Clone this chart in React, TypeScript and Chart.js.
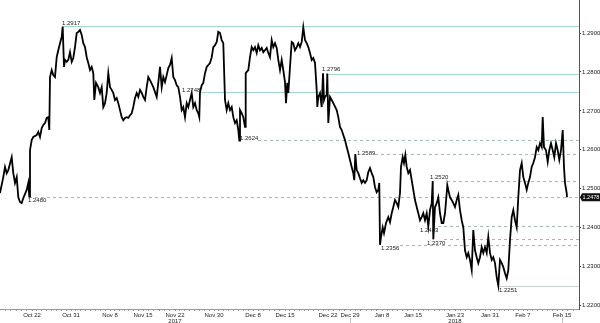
import { useEffect, useRef } from "react";
import { Chart, registerables } from "chart.js";
Chart.register(...registerables);

// time index along the (weekend-free) axis and GBP/USD-style price
const times = [
  0, 3.3, 5, 6.7, 8.3, 11.7, 13.3, 15, 16.7, 18.3, 20, 21.7, 23.3, 26.7, 28.3, 29.3, 30, 31.7, 33.3, 36.7, 38.3, 40, 41.7, 43.3, 45, 46.7, 48.3, 49.3,
  50, 51.7, 53.3, 55, 56.7, 58.3, 60, 61.7, 62.7, 64, 65, 66.7, 68.3, 70, 71.7, 73.3, 75, 76.7, 78.3, 80, 81.7, 83.3, 85, 86.7, 88.3, 90, 91.7, 93.3, 94.3, 96, 98.3,
  100, 101.7, 103.3, 105, 106.7, 108.3, 110, 111.7, 113.3, 115, 116.7, 118.3, 120, 121.7, 123.3, 125, 126.7, 128.3, 130, 131.7, 133.3, 135, 136.7, 138.3, 140, 141.7, 143.3, 145, 146.7, 148.3,
  150, 153.3, 156.7, 158.3, 160, 161.7, 163.3, 165, 166.7, 168.3, 170, 171.7, 173.3, 175, 176.7, 178.3, 180, 181.7, 183.3, 185, 186.7, 188.3, 190, 191.7, 193.3, 195, 196.7, 198.3, 199.3,
  200, 201.7, 203.3, 205, 206.7, 208.3, 210, 211.7, 213.3, 215, 216.7, 218.3, 220, 221.7, 223.3, 225, 226.7, 228.3, 230, 231.7, 233.3, 235, 236.7, 238.3, 239.3, 240, 241.7, 243.3, 245, 245.7, 248.3,
  250, 251.7, 253.3, 255, 256.7, 258.3, 260, 261.7, 263.3, 265, 266.7, 268.3, 270, 271.7, 273.3, 275, 276.7, 278.3, 280, 281.7, 283.3, 285, 286, 287.3, 288.3, 290, 291.7, 293.3, 295, 296.7, 298.3,
  300, 301.7, 303.3, 305, 306.7, 308.3, 310, 311.7, 313.3, 315, 316.7, 317.3, 318.3, 320, 321.7, 323, 324, 325, 326.7, 327.3, 328.3, 330, 331.7, 333.3, 336.7, 338.3, 340, 341.7, 343.3, 345, 346.7, 348.3,
  350, 351.7, 353.3, 354.3, 355.3, 356.7, 358.3, 360, 361.7, 363.3, 365, 366.7, 368.3, 370, 371.7, 373.3, 375, 376.7, 378.3, 379.3, 380, 381, 382.7, 384, 386, 388.3, 390, 391.7, 393.3, 395, 396.7, 398.3,
  400, 401, 402.7, 404, 405.3, 406.7, 408.3, 410, 411.7, 413.3, 415, 416.7, 418.3, 420, 421.7, 423.3, 425, 426.7, 428.3, 430, 431.7, 432.7, 433.3, 435, 436.7, 438.3, 440, 441.7, 443.3, 445, 446.7, 447.3, 448.3,
  450, 451.7, 453.3, 455, 456.7, 458.3, 460, 461.7, 463.3, 465, 466.7, 468.3, 470, 471.7, 473.3, 475, 476.7, 478.3, 480, 481.7, 483.3, 485, 486.7, 488.3, 490, 491.7, 493.3, 495, 496.7, 498.3,
  500, 501.7, 503.3, 505, 506.7, 508.3, 510, 511.7, 513.3, 515, 516.7, 518.3, 520, 521.7, 523.3, 525, 526.7, 528.3, 530, 531.7, 533.3, 535, 536.7, 538.3, 540, 541.7, 542.7, 544, 546, 547.7, 549.3,
  551, 552.7, 554.3, 556, 557.7, 559.3, 561, 562.7, 564, 565, 566.7, 567,
];

const prices = [
  1.2489, 1.2530, 1.2556, 1.2540, 1.2548, 1.2581, 1.2540, 1.2515, 1.2530, 1.2478, 1.2466, 1.2463, 1.2476, 1.2497, 1.2515, 1.2480, 1.2599, 1.2625, 1.2633, 1.2638, 1.2646, 1.2633, 1.2656, 1.2664, 1.2669, 1.2682, 1.2684, 1.2651,
  1.2787, 1.2805, 1.2792, 1.2787, 1.2838, 1.2856, 1.2874, 1.2890, 1.2917, 1.2813, 1.2831, 1.2826, 1.2831, 1.2851, 1.2826, 1.2836, 1.2864, 1.2900, 1.2903, 1.2908, 1.2895, 1.2874, 1.2864, 1.2838, 1.2823, 1.2805, 1.2813, 1.2797, 1.2728, 1.2772, 1.2761,
  1.2746, 1.2761, 1.2710, 1.2720, 1.2746, 1.2797, 1.2761, 1.2754, 1.2746, 1.2728, 1.2733, 1.2720, 1.2702, 1.2684, 1.2676, 1.2682, 1.2684, 1.2682, 1.2689, 1.2694, 1.2710, 1.2733, 1.2746, 1.2736, 1.2754, 1.2746, 1.2736, 1.2728, 1.2761, 1.2787,
  1.2779, 1.2761, 1.2736, 1.2772, 1.2813, 1.2761, 1.2787, 1.2774, 1.2792, 1.2810, 1.2818, 1.2836, 1.2787, 1.2779, 1.2766, 1.2761, 1.2736, 1.2702, 1.2710, 1.2684, 1.2720, 1.2710, 1.2728, 1.2746, 1.2710, 1.2720, 1.2702, 1.2694, 1.2684,
  1.2748, 1.2766, 1.2772, 1.2797, 1.2813, 1.2818, 1.2823, 1.2838, 1.2864, 1.2869, 1.2877, 1.2903, 1.2900, 1.2882, 1.2874, 1.2728, 1.2702, 1.2720, 1.2702, 1.2710, 1.2684, 1.2669, 1.2676, 1.2651, 1.2624, 1.2702, 1.2694, 1.2684, 1.2659, 1.2797, 1.2805,
  1.2838, 1.2864, 1.2856, 1.2864, 1.2849, 1.2869, 1.2856, 1.2862, 1.2851, 1.2856, 1.2862, 1.2849, 1.2838, 1.2882, 1.2864, 1.2874, 1.2862, 1.2831, 1.2805, 1.2831, 1.2805, 1.2774, 1.2720, 1.2772, 1.2746, 1.2813, 1.2877, 1.2874, 1.2856, 1.2864, 1.2874,
  1.2864, 1.2877, 1.2915, 1.2882, 1.2874, 1.2864, 1.2849, 1.2831, 1.2836, 1.2823, 1.2754, 1.2710, 1.2736, 1.2746, 1.2710, 1.2797, 1.2728, 1.2736, 1.2741, 1.2796, 1.2669, 1.2736, 1.2728, 1.2720, 1.2702, 1.2684, 1.2659, 1.2651, 1.2638, 1.2625, 1.2607, 1.2592,
  1.2574, 1.2556, 1.2540, 1.2522, 1.2589, 1.2548, 1.2540, 1.2527, 1.2515, 1.2522, 1.2515, 1.2522, 1.2543, 1.2553, 1.2540, 1.2530, 1.2504, 1.2491, 1.2497, 1.2515, 1.2356, 1.2376, 1.2401, 1.2386, 1.2412, 1.2427, 1.2414, 1.2437, 1.2453, 1.2471, 1.2463, 1.2453,
  1.2489, 1.2556, 1.2581, 1.2566, 1.2587, 1.2556, 1.2540, 1.2548, 1.2522, 1.2497, 1.2471, 1.2453, 1.2437, 1.2419, 1.2427, 1.2437, 1.2419, 1.2437, 1.2403, 1.2445, 1.2463, 1.2520, 1.2370, 1.2453, 1.2463, 1.2478, 1.2437, 1.2412, 1.2412, 1.2437, 1.2489, 1.2509, 1.2497,
  1.2478, 1.2471, 1.2463, 1.2453, 1.2471, 1.2484, 1.2445, 1.2419, 1.2401, 1.2342, 1.2324, 1.2335, 1.2317, 1.2291, 1.2394, 1.2342, 1.2324, 1.2309, 1.2324, 1.2350, 1.2335, 1.2350, 1.2335, 1.2376, 1.2335, 1.2317, 1.2324, 1.2309, 1.2273, 1.2251,
  1.2317, 1.2309, 1.2299, 1.2283, 1.2270, 1.2291, 1.2368, 1.2427, 1.2445, 1.2419, 1.2401, 1.2478, 1.2548, 1.2566, 1.2530, 1.2515, 1.2497, 1.2515, 1.2530, 1.2556, 1.2566, 1.2581, 1.2607, 1.2599, 1.2617, 1.2607, 1.2684, 1.2607, 1.2599, 1.2569, 1.2599,
  1.2617, 1.2599, 1.2581, 1.2617, 1.2599, 1.2574, 1.2599, 1.2651, 1.2556, 1.2515, 1.2489, 1.2478,
];

const tickPositions = [32, 71, 110, 143, 175, 214, 253, 285, 328, 350, 382, 413, 455, 490, 523, 562];
const tickLabels = ["Oct 22", "Oct 31", "Nov 8", "Nov 15", "Nov 22", "Nov 30", "Dec 8", "Dec 15", "Dec 22", "Dec 29", "Jan 8", "Jan 15", "Jan 23", "Jan 31", "Feb 7", "Feb 15"];
const yearTickIndexes = [4, 12];
const yearLabels = ["2017", "2018"];
const separatorTickIndexes = [9, 15];

const yTicks = [1.22, 1.23, 1.24, 1.25, 1.26, 1.27, 1.28, 1.29];
const yMin = 1.2191;
const yMax = 1.2985;
const xMax = 579;

const levelValues = [1.2917, 1.2796, 1.2748, 1.2624, 1.2589, 1.252, 1.248, 1.2403, 1.237, 1.2356, 1.2251];
const levelStartTimes = [63, 326, 200, 258, 375, 447, 29, 438, 444, 400, 498];
const levelLabelTimes = [62, 322, 182, 240, 357, 430, 28, 420, 427, 381, 499];
const lastPrice = 1.2478;

// styles (kept apart from the data)
const TEAL = "#a3d6cd";
const DASH = "#a4b8b8";
const GREY = "#c9d0d0";
const levelKinds = ["solid", "solid", "solid", "dash", "dash", "dash", "dash", "dash", "dash", "dash", "grey"];
const levelLabelDy = [-3.5, -4, -1.5, -2.5, -1, -3.5, 4, 3.5, 4, 3.5, 5];
const FONT = '"Liberation Sans", Arial, sans-serif';

const levelsPlugin = {
  id: "levels",
  beforeDatasetsDraw(chart: any) {
    const { ctx, chartArea, scales } = chart;
    const x = scales.x;
    const y = scales.y;
    ctx.save();
    levelValues.forEach((v, i) => {
      const kind = levelKinds[i];
      const py = Math.round(y.getPixelForValue(v)) + 0.5;
      const px0 = x.getPixelForValue(levelStartTimes[i]);
      ctx.beginPath();
      ctx.lineWidth = 1;
      ctx.strokeStyle = kind === "solid" ? TEAL : kind === "dash" ? DASH : GREY;
      ctx.setLineDash(kind === "dash" ? [3, 3] : []);
      ctx.moveTo(px0, py);
      ctx.lineTo(chartArea.right, py);
      ctx.stroke();
    });
    ctx.restore();
  },
  afterDatasetsDraw(chart: any) {
    const { ctx, scales } = chart;
    const x = scales.x;
    const y = scales.y;
    ctx.save();
    ctx.font = `6px ${FONT}`;
    ctx.fillStyle = "#1a1a1a";
    ctx.textBaseline = "middle";
    ctx.textAlign = "left";
    levelValues.forEach((v, i) => {
      ctx.fillText(v.toFixed(4), x.getPixelForValue(levelLabelTimes[i]), y.getPixelForValue(v) + levelLabelDy[i]);
    });
    ctx.restore();
  },
  afterDraw(chart: any) {
    const { ctx, chartArea, scales } = chart;
    const x = scales.x;
    const y = scales.y;
    ctx.save();
    // last price tag
    const py = y.getPixelForValue(lastPrice);
    const left = chartArea.right + 1;
    ctx.fillStyle = "#111";
    ctx.beginPath();
    ctx.moveTo(left, py);
    ctx.lineTo(left + 2, py - 4);
    ctx.lineTo(chart.width, py - 4);
    ctx.lineTo(chart.width, py + 4);
    ctx.lineTo(left + 2, py + 4);
    ctx.closePath();
    ctx.fill();
    ctx.fillStyle = "#fff";
    ctx.font = `5.5px ${FONT}`;
    ctx.textBaseline = "middle";
    ctx.textAlign = "left";
    ctx.fillText(lastPrice.toFixed(4), left + 2.5, py + 0.5);
    // separators under the axis
    ctx.strokeStyle = "#c4c4c4";
    ctx.lineWidth = 1;
    separatorTickIndexes.forEach((ti) => {
      const px = Math.round(x.getPixelForValue(tickPositions[ti])) + 0.5;
      ctx.beginPath();
      ctx.moveTo(px, chartArea.bottom + 9);
      ctx.lineTo(px, chart.height);
      ctx.stroke();
    });
    ctx.restore();
  },
};

function buildXTicks() {
  const out: { value: number }[] = [];
  for (let i = 0; i < tickPositions.length; i++) {
    out.push({ value: tickPositions[i] });
    const next = i + 1 < tickPositions.length ? tickPositions[i + 1] : xMax;
    const gap = next - tickPositions[i];
    const n = Math.max(1, Math.round(gap / 5));
    for (let k = 1; k < n; k++) out.push({ value: tickPositions[i] + (gap * k) / n });
  }
  const first = tickPositions[0];
  const n0 = Math.round(first / 5);
  for (let k = 1; k < n0; k++) out.push({ value: first - (first * k) / n0 });
  return out.sort((a, b) => a.value - b.value);
}

export default function App() {
  const ref = useRef<HTMLCanvasElement | null>(null);
  useEffect(() => {
    document.body.style.margin = "0";
    if (!ref.current) return;
    const chart = new Chart(ref.current, {
      type: "line",
      data: {
        datasets: [
          {
            data: times.map((t, i) => ({ x: t, y: prices[i] })),
            borderColor: "#000",
            borderWidth: 1.8,
            pointRadius: 0,
            tension: 0,
            fill: false,
          },
        ],
      },
      options: {
        animation: false,
        responsive: false,
        devicePixelRatio: 1,
        layout: { padding: 0 },
        plugins: { legend: { display: false }, tooltip: { enabled: false } },
        scales: {
          x: {
            type: "linear",
            min: 0,
            max: xMax,
            afterBuildTicks(axis: any) {
              axis.ticks = buildXTicks();
            },
            afterFit(scale: any) {
              scale.height = 14;
              scale.paddingLeft = 0;
              scale.paddingRight = 0;
            },
            grid: { drawOnChartArea: false, drawTicks: true, tickLength: 2, color: "#9a9a9a" },
            border: { display: true, color: "#9a9a9a" },
            ticks: {
              autoSkip: false,
              maxRotation: 0,
              minRotation: 0,
              padding: 1,
              color: "#222",
              font: { family: FONT, size: 6, lineHeight: 1.05 },
              callback(value: any) {
                const idx = tickPositions.findIndex((p) => Math.abs(p - value) < 1e-6);
                if (idx < 0) return "";
                const yi = yearTickIndexes.indexOf(idx);
                return yi >= 0 ? [tickLabels[idx], yearLabels[yi]] : tickLabels[idx];
              },
            },
          },
          y: {
            type: "linear",
            position: "right",
            min: yMin,
            max: yMax,
            afterBuildTicks(axis: any) {
              axis.ticks = yTicks.map((value) => ({ value }));
            },
            afterFit(scale: any) {
              scale.width = 21;
              scale.paddingTop = 0;
              scale.paddingBottom = 0;
            },
            grid: { drawOnChartArea: false, drawTicks: true, tickLength: 2, color: "#333" },
            border: { display: true, color: "#555" },
            ticks: {
              padding: 1,
              color: "#222",
              font: { family: FONT, size: 6 },
              callback(value: any) {
                return Number(value).toFixed(4);
              },
            },
          },
        },
      },
      plugins: [levelsPlugin],
    });
    return () => chart.destroy();
  }, []);
  return (
    <div style={{ width: 600, height: 323, background: "#fff" }}>
      <canvas ref={ref} width={600} height={323} style={{ display: "block" }} />
    </div>
  );
}
